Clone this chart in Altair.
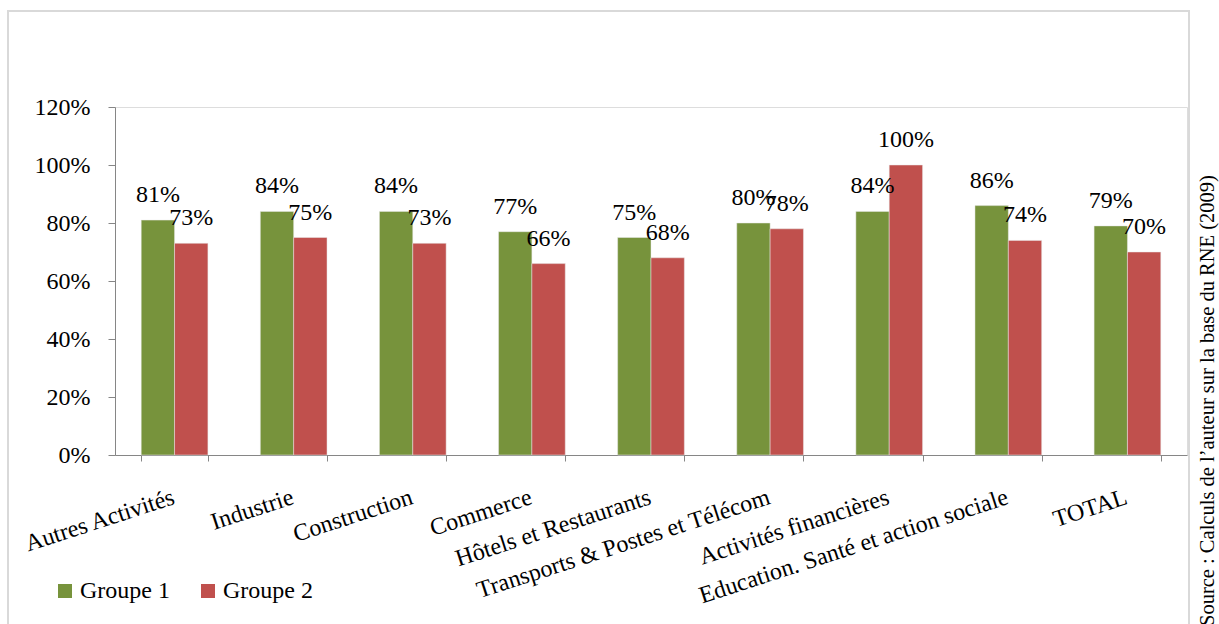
import altair as alt
import pandas as pd

categories = ["Autres Activités", "Industrie", "Construction", "Commerce",
              "Hôtels et Restaurants", "Transports & Postes et Télécom",
              "Activités financières", "Education. Santé et action sociale", "TOTAL"]
groupe1 = [0.81, 0.84, 0.84, 0.77, 0.75, 0.80, 0.84, 0.86, 0.79]
groupe2 = [0.73, 0.75, 0.73, 0.66, 0.68, 0.78, 1.00, 0.74, 0.70]
series = ["Groupe 1", "Groupe 2"]
colors = ["#77933C", "#C0504D"]
y_ticks = [0, 0.2, 0.4, 0.6, 0.8, 1.0, 1.2]
source_text = "Source : Calculs de l’auteur sur la base du RNE (2009)"

rows = []
for c, a, b in zip(categories, groupe1, groupe2):
    rows.append({"cat": c, "grp": series[0], "val": a})
    rows.append({"cat": c, "grp": series[1], "val": b})
df = pd.DataFrame(rows)

FONT = "Liberation Serif"
FS = 24

x_enc = alt.X("cat:N", sort=categories,
              scale=alt.Scale(paddingInner=0.44, paddingOuter=0.22),
              axis=alt.Axis(title=None, labelAngle=-18, labelAlign="right",
                            labelBaseline="top", labelFontSize=FS, labelFont=FONT,
                            labelColor="black", tickBand="extent", tickSize=6,
                            labelPadding=24, labelOffset=-5,
                            domainColor="#868686", tickColor="#868686",
                            labelLimit=500))
xo_enc = alt.XOffset("grp:N", sort=series, scale=alt.Scale(paddingInner=0, paddingOuter=0))
y_enc = alt.Y("val:Q", scale=alt.Scale(domain=[0, 1.2], nice=False),
              axis=alt.Axis(title=None, values=y_ticks, format=".0%", grid=False,
                            labelFontSize=FS, labelFont=FONT, labelColor="black",
                            tickSize=7, labelPadding=18, domainColor="#868686",
                            tickColor="#868686"))

base = alt.Chart(df)
bars = base.mark_bar(stroke="#e8e8e8", strokeWidth=0.5).encode(
    x=x_enc, xOffset=xo_enc, y=y_enc,
    color=alt.Color("grp:N", sort=series,
                    scale=alt.Scale(domain=series, range=colors),
                    legend=alt.Legend(title=None, orient="none", direction="horizontal",
                                      legendX=-62, legendY=472, symbolType="square",
                                      symbolSize=196, symbolStrokeWidth=0,
                                      labelFontSize=FS, labelFont=FONT, labelColor="black",
                                      columnPadding=26, labelOffset=3)),
)
labels = base.mark_text(font=FONT, fontSize=FS, baseline="alphabetic", dy=-18,
                        color="black").encode(
    x=alt.X("cat:N", sort=categories), xOffset=alt.XOffset("grp:N", sort=series),
    y="val:Q", text=alt.Text("val:Q", format=".0%"),
)

one = pd.DataFrame({"t": [source_text]})
border = alt.Chart(one).mark_rect(fillOpacity=0, stroke="#d9d9d9", strokeWidth=2).encode(
    x=alt.value(-107), x2=alt.value(1074), y=alt.value(-96), y2=alt.value(600))
source = alt.Chart(one).mark_text(font=FONT, fontSize=20.5, angle=270, align="left",
                                  baseline="middle", color="black").encode(
    x=alt.value(1093), y=alt.value(519), text="t:N")

chart = alt.layer(border, bars, labels, source).properties(
    width=1072, height=348,
    autosize=alt.AutoSizeParams(type="none"),
    padding={"left": 115, "top": 107, "right": 32, "bottom": 169},
).configure_view(stroke=None).configure(font=FONT, background="white")

chart.save("out.html", embed_options={"renderer": "svg", "actions": False})
